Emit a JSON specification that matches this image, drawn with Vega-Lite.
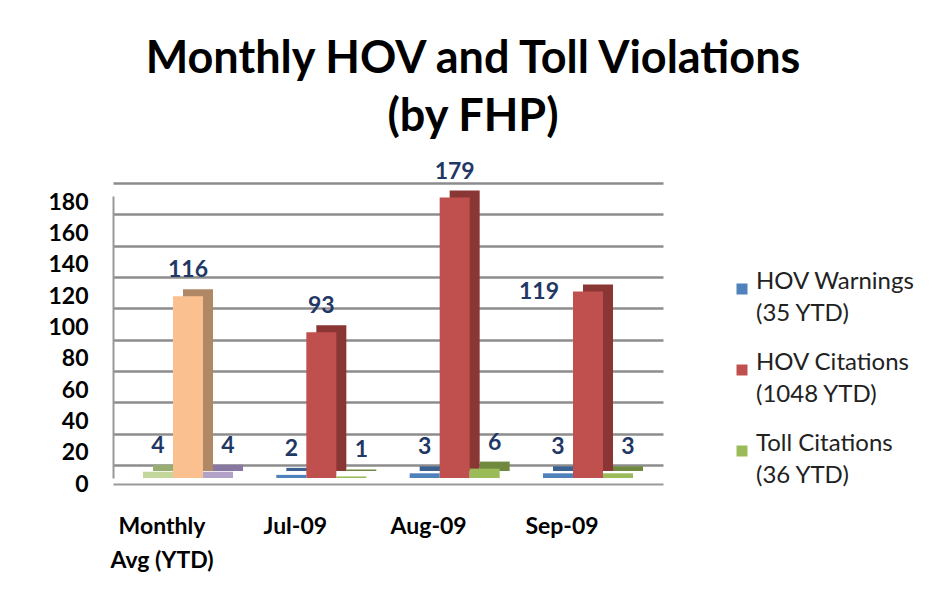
{
  "$schema": "https://vega.github.io/schema/vega-lite/v6.json",
  "width": 550,
  "height": 282,
  "autosize": "none",
  "padding": {"left": 113, "top": 196, "right": 274, "bottom": 127},
  "background": "white",
  "title": {
    "text": ["Monthly HOV and Toll Violations", "(by FHP)"],
    "font": "Lato",
    "fontSize": 45,
    "fontWeight": "bold",
    "color": "#000000",
    "lineHeight": 58,
    "anchor": "middle",
    "frame": "group",
    "dx": 85,
    "offset": 21
  },
  "data": {
    "values": [
      {"category": "Monthly Avg (YTD)", "series": "HOV Warnings (35 YTD)", "value": 4},
      {"category": "Monthly Avg (YTD)", "series": "HOV Citations (1048 YTD)", "value": 116},
      {"category": "Monthly Avg (YTD)", "series": "Toll Citations (36 YTD)", "value": 4},
      {"category": "Jul-09", "series": "HOV Warnings (35 YTD)", "value": 2},
      {"category": "Jul-09", "series": "HOV Citations (1048 YTD)", "value": 93},
      {"category": "Jul-09", "series": "Toll Citations (36 YTD)", "value": 1},
      {"category": "Aug-09", "series": "HOV Warnings (35 YTD)", "value": 3},
      {"category": "Aug-09", "series": "HOV Citations (1048 YTD)", "value": 179},
      {"category": "Aug-09", "series": "Toll Citations (36 YTD)", "value": 6},
      {"category": "Sep-09", "series": "HOV Warnings (35 YTD)", "value": 3},
      {"category": "Sep-09", "series": "HOV Citations (1048 YTD)", "value": 119},
      {"category": "Sep-09", "series": "Toll Citations (36 YTD)", "value": 3}
    ]
  },
  "transform": [
    {"calculate": "datum.category == 'Monthly Avg (YTD)' ? 'avg|' + datum.series : datum.series", "as": "key"}
  ],
  "encoding": {
    "x": {
      "field": "category",
      "type": "nominal",
      "sort": ["Monthly Avg (YTD)", "Jul-09", "Aug-09", "Sep-09"],
      "scale": {"type": "band", "paddingInner": 0.325, "paddingOuter": 0.225},
      "axis": {
        "title": null,
        "labelAngle": 0,
        "labelFont": "Lato",
        "labelFontSize": 23,
        "labelFontWeight": "bold",
        "labelColor": "#000000",
        "labelBaseline": "top",
        "labelLineHeight": 34,
        "labelPadding": 31,
        "labelOffset": -26,
        "labelExpr": "datum.value == 'Monthly Avg (YTD)' ? ['Monthly', 'Avg (YTD)'] : datum.label",
        "ticks": false,
        "domainColor": "#999999",
        "domainWidth": 2,
        "offset": 6
      }
    },
    "xOffset": {
      "field": "series",
      "type": "nominal",
      "scale": {"type": "band", "domain": ["HOV Warnings (35 YTD)", "HOV Citations (1048 YTD)", "Toll Citations (36 YTD)"], "paddingInner": 0, "paddingOuter": 0, "range": [0, 90]}
    },
    "y": {
      "field": "value",
      "type": "quantitative",
      "scale": {"domain": [0, 180], "nice": false},
      "axis": {
        "title": null,
        "values": [0, 20, 40, 60, 80, 100, 120, 140, 160, 180],
        "labelFont": "Lato",
        "labelFontSize": 23,
        "labelFontWeight": "bold",
        "labelColor": "#000000",
        "labelPadding": 25,
        "tickOffset": -13,
        "labelOffset": 19,
        "ticks": false,
        "grid": true,
        "gridColor": "#8c8c8c",
        "gridWidth": 2.5,
        "domainColor": "#999999",
        "domainWidth": 2
      }
    }
  },
  "layer": [
    {
      "mark": {"type": "bar", "yOffset": -7, "y2Offset": 0},
      "encoding": {
        "xOffset": {
          "field": "series",
          "type": "nominal",
          "scale": {"type": "band", "domain": ["HOV Warnings (35 YTD)", "HOV Citations (1048 YTD)", "Toll Citations (36 YTD)"], "paddingInner": 0, "paddingOuter": 0, "range": [10, 100]}
        },
        "color": {
          "field": "key",
          "type": "nominal",
          "scale": {
            "domain": ["HOV Warnings (35 YTD)", "HOV Citations (1048 YTD)", "Toll Citations (36 YTD)", "avg|HOV Warnings (35 YTD)", "avg|HOV Citations (1048 YTD)", "avg|Toll Citations (36 YTD)"],
            "range": ["#3A6190", "#8A3634", "#71893F", "#98AE70", "#B08865", "#8877A0"]
          },
          "legend": null
        }
      }
    },
    {
      "mark": {"type": "bar"},
      "encoding": {
        "color": {
          "field": "key",
          "type": "nominal",
          "scale": {
            "domain": ["HOV Warnings (35 YTD)", "HOV Citations (1048 YTD)", "Toll Citations (36 YTD)", "avg|HOV Warnings (35 YTD)", "avg|HOV Citations (1048 YTD)", "avg|Toll Citations (36 YTD)"],
            "range": ["#4F81BD", "#C0504D", "#9BBB59", "#C3D69B", "#FAC090", "#B3A2C7"]
          },
          "legend": {
            "title": null,
            "values": ["HOV Warnings (35 YTD)", "HOV Citations (1048 YTD)", "Toll Citations (36 YTD)"],
            "orient": "none",
            "legendX": 617,
            "legendY": 81,
            "symbolType": "square",
            "symbolSize": 121,
            "symbolStrokeWidth": 0,
            "labelFont": "Lato",
            "labelFontSize": 24,
            "labelColor": "#222222",
            "labelLimit": 300,
            "labelOffset": 2,
            "labelBaseline": "alphabetic",
            "labelExpr": "[substring(datum.label, 0, indexof(datum.label, ' (')), substring(datum.label, indexof(datum.label, ' (') + 1)]",
            "rowPadding": 25
          }
        }
      }
    },
    {
      "transform": [{"filter": "datum.series != 'Toll Citations (36 YTD)' && !(datum.category == 'Sep-09' && datum.series == 'HOV Citations (1048 YTD)')"}],
      "mark": {"type": "text", "font": "Lato", "fontSize": 23, "fontWeight": "bold", "color": "#1F3864", "baseline": "alphabetic", "dy": -19},
      "encoding": {"text": {"field": "value", "type": "quantitative"}}
    },
    {
      "transform": [{"filter": "datum.series == 'Toll Citations (36 YTD)'"}],
      "mark": {"type": "text", "font": "Lato", "fontSize": 23, "fontWeight": "bold", "color": "#1F3864", "baseline": "alphabetic", "dy": -19, "dx": 10},
      "encoding": {"text": {"field": "value", "type": "quantitative"}}
    },
    {
      "transform": [{"filter": "datum.category == 'Sep-09' && datum.series == 'HOV Citations (1048 YTD)'"}],
      "mark": {"type": "text", "font": "Lato", "fontSize": 23, "fontWeight": "bold", "color": "#1F3864", "baseline": "alphabetic", "dy": 7, "dx": -49},
      "encoding": {"text": {"field": "value", "type": "quantitative"}}
    }
  ],
  "resolve": {"scale": {"color": "independent", "xOffset": "independent"}},
  "config": {"view": {"stroke": null}, "style": {"guide-label": {"lineHeight": 32}}}
}
